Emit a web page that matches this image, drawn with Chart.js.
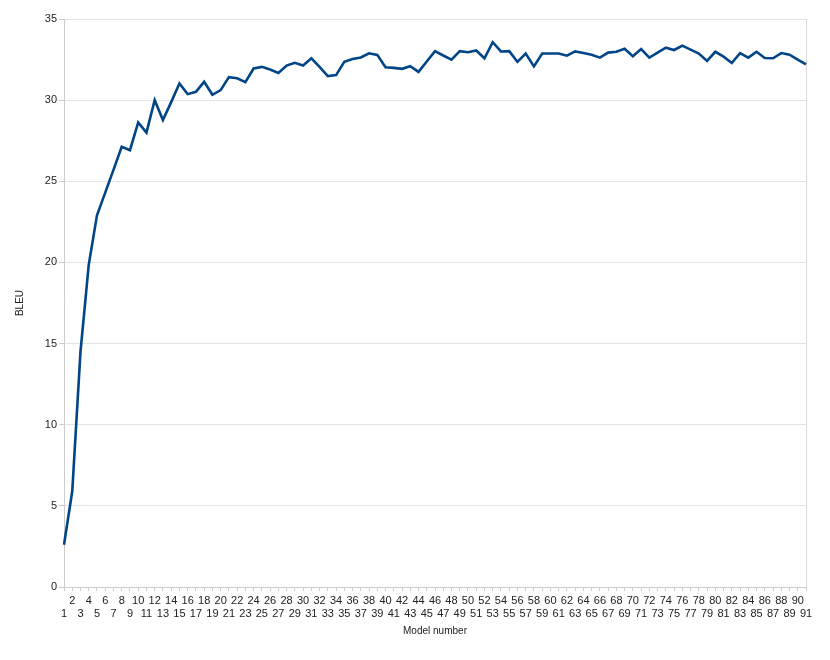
<!DOCTYPE html>
<html>
<head>
<meta charset="utf-8">
<script src="https://cdn.jsdelivr.net/npm/chart.js@4/dist/chart.umd.min.js"></script>
<style>
  html, body { margin: 0; padding: 0; background: #fff; }
  #wrap { width: 830px; height: 660px; }
</style>
</head>
<body>
<div id="wrap"><canvas id="bleuChart" width="830" height="660"></canvas></div>
<script>
var modelNumbers = [];
for (var i = 1; i <= 91; i++) modelNumbers.push(String(i));

var bleuScores = [
  2.6, 5.9, 14.5, 19.85, 22.9, 24.3, 25.7, 27.13, 26.92, 28.63,
  28.0, 30.0, 28.77, 29.88, 31.03, 30.37, 30.51, 31.13, 30.33, 30.62,
  31.42, 31.35, 31.11, 31.95, 32.05, 31.89, 31.68, 32.13, 32.3, 32.13,
  32.58, 32.05, 31.48, 31.54, 32.36, 32.54, 32.63, 32.89, 32.79, 32.03,
  31.99, 31.93, 32.09, 31.74, 32.38, 33.02, 32.75, 32.5, 33.02, 32.95,
  33.06, 32.58, 33.57, 33.0, 33.02, 32.36, 32.87, 32.08, 32.87, 32.87,
  32.87, 32.74, 33.0, 32.9, 32.8, 32.62, 32.93, 32.98, 33.17, 32.7,
  33.15, 32.62, 32.93, 33.23, 33.09, 33.36, 33.11, 32.87, 32.42, 32.98,
  32.68, 32.29, 32.9, 32.62, 32.98, 32.6, 32.58, 32.9, 32.8, 32.5,
  32.2
];

var yMin = 0;
var yMax = 35;
var yStep = 5;

var textColor = '#222222';
var fontFamily = '"Liberation Sans", Arial, sans-serif';

var ctx = document.getElementById('bleuChart').getContext('2d');

var bleuChart = new Chart(ctx, {
  type: 'line',
  data: {
    labels: modelNumbers,
    datasets: [{
      label: 'BLEU',
      data: bleuScores,
      borderColor: '#004586',
      backgroundColor: '#004586',
      borderWidth: 2.6,
      pointRadius: 0,
      tension: 0,
      fill: false
    }]
  },
  options: {
    responsive: false,
    animation: false,
    layout: { padding: { left: 10, right: 24, top: 19, bottom: 19 } },
    plugins: {
      legend: { display: false },
      tooltip: { enabled: false }
    },
    scales: {
      x: {
        type: 'category',
        offset: false,
        afterFit: function(scale) { scale.height = 54; },
        border: { color: '#cccccc', width: 1 },
        grid: {
          drawOnChartArea: true,
          color: function(c) { return c.index === modelNumbers.length - 1 ? '#d9d9d9' : 'rgba(0,0,0,0)'; },
          tickColor: '#cccccc',
          tickLength: 4
        },
        ticks: {
          autoSkip: false,
          maxRotation: 0,
          minRotation: 0,
          padding: 3,
          color: textColor,
          font: { family: fontFamily, size: 11 },
          callback: function(value, index) {
            var s = modelNumbers[index];
            return (index % 2 === 0) ? ['', s] : [s];
          }
        },
        title: {
          display: true,
          text: 'Model number',
          color: textColor,
          font: { family: fontFamily, size: 10 },
          padding: { top: 4, bottom: 4 }
        }
      },
      y: {
        min: yMin,
        max: yMax,
        afterFit: function(scale) { scale.width = 54; },
        border: { color: '#cccccc', width: 1 },
        grid: {
          color: '#e3e3e3',
          tickColor: '#cccccc',
          tickLength: 5
        },
        ticks: {
          stepSize: yStep,
          padding: 2,
          color: textColor,
          font: { family: fontFamily, size: 11 }
        },
        title: {
          display: true,
          text: 'BLEU',
          color: textColor,
          font: { family: fontFamily, size: 10 },
          padding: { top: 4, bottom: 4 }
        }
      }
    }
  }
});
</script>
</body>
</html>
